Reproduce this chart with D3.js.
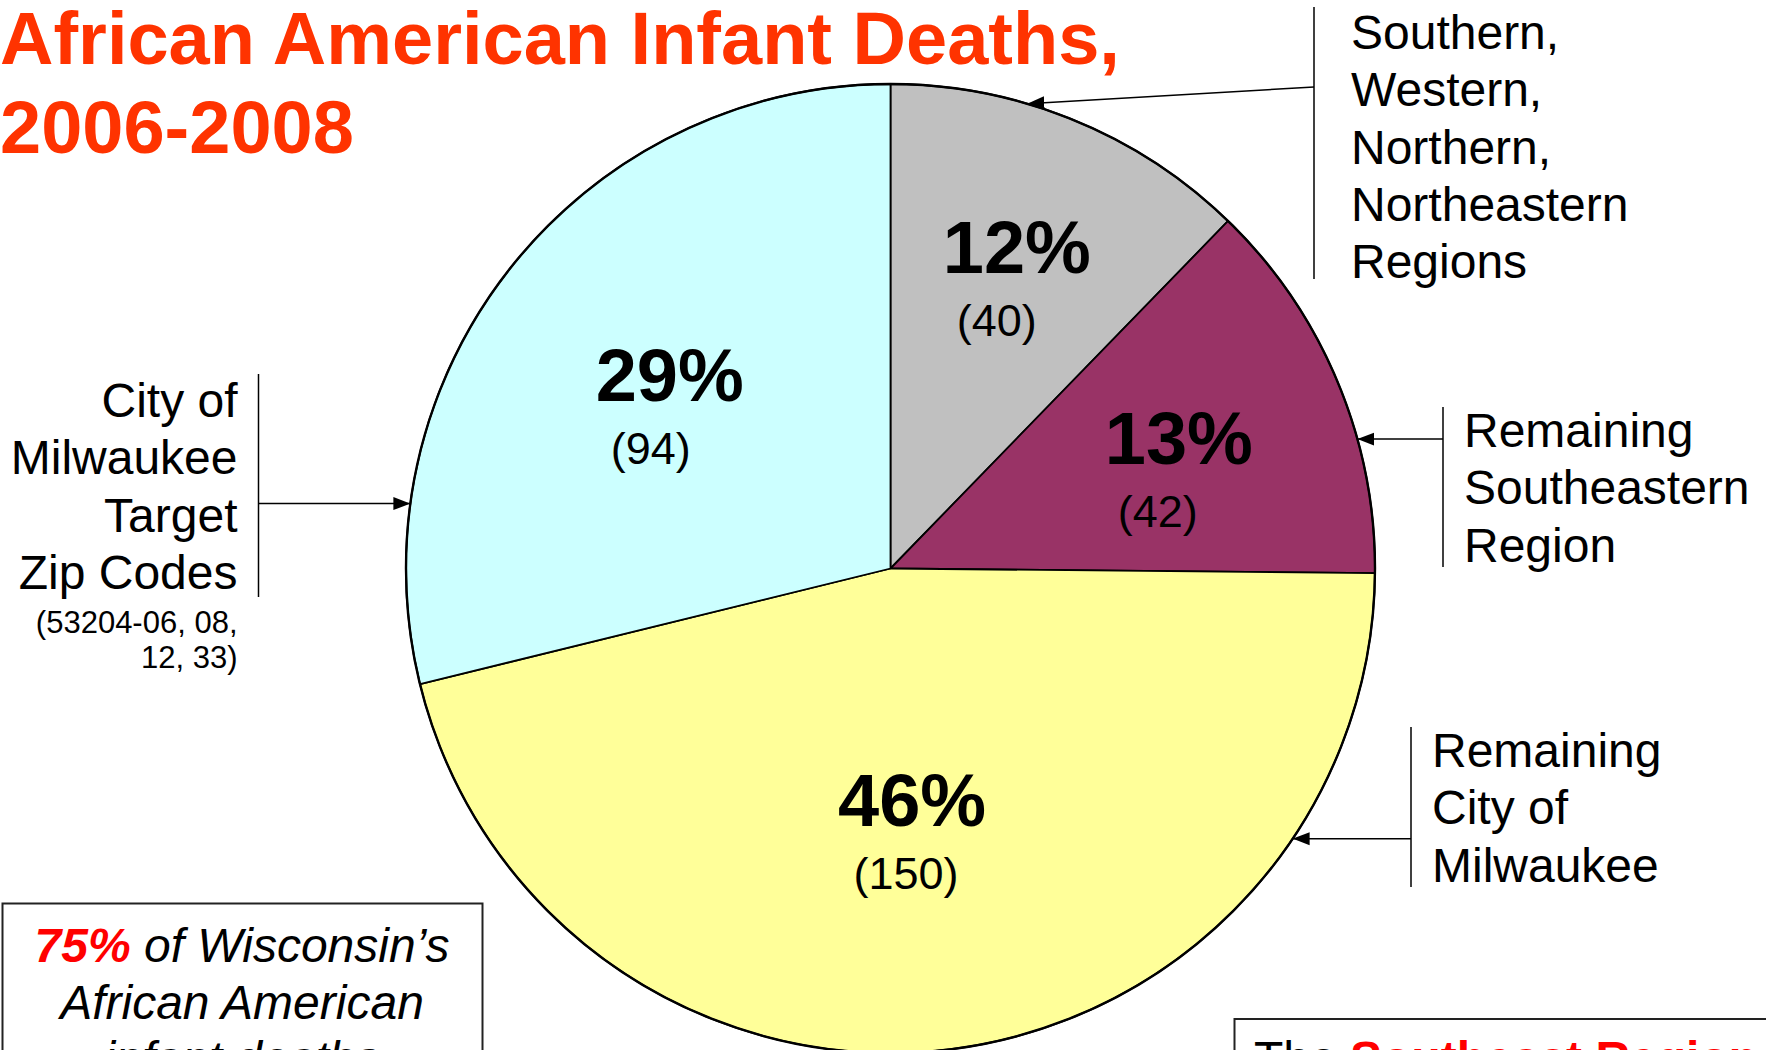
<!DOCTYPE html>
<html>
<head>
  <meta charset="utf-8">
  <title>African American Infant Deaths</title>
  <script src="https://d3js.org/d3.v7.min.js"></script>
  <style>
    body { margin: 0; background: #fff; overflow: hidden; }
    text { font-family: Arial, "Liberation Sans", sans-serif; }
  </style>
</head>
<body>
  <svg width="1766" height="1050"></svg>
  <script>
  // ---- data (clockwise from 12 o'clock) ----
  var regions = ["Other Regions", "Remaining Southeastern Region", "Remaining City of Milwaukee", "Target Zip Codes"];
  var deaths = [40, 42, 150, 94];
  var sliceColors = ["#C0C0C0", "#993366", "#FFFF99", "#CCFFFF"];

  var calloutLines = [
    ["Southern,", "Western,", "Northern,", "Northeastern", "Regions"],
    ["Remaining", "Southeastern", "Region"],
    ["Remaining", "City of", "Milwaukee"],
    ["City of", "Milwaukee", "Target", "Zip Codes"]
  ];
  var zipNote = ["(53204-06, 08,", "12, 33)"];

  var titleLines = ["African American Infant Deaths,", "2006-2008"];

  // ---- layout ----
  var cx = 890.5, cy = 568.5, R = 484.5;
  var labelRadius = R * 0.6;
  // small shifts of the in-slice labels, [dx, dy, count dx]
  var labelNudge = [[17, -26, -20], [20, 7, -21], [-12, -31, -6], [8, 12, -19]];

  // callout boxes: text x, first baseline, anchor, bar x, bar range, arrow angle, attach y
  var callouts = [
    { x: 1351, y: 49, anchor: "start", barX: 1314, bar: [7, 279], angle: 16.4, attachY: 87 },
    { x: 1464, y: 447, anchor: "start", barX: 1443, bar: [407, 567], angle: 74.5 },
    { x: 1432, y: 767, anchor: "start", barX: 1411, bar: [727, 887], angle: 123.9 },
    { x: 237.5, y: 417, anchor: "end", barX: 258.5, bar: [374, 597], angle: 277.7 }
  ];
  var lineGap = 57.3;

  var svg = d3.select("svg");

  // arrow head
  svg.append("defs").append("marker")
    .attr("id", "arrow")
    .attr("markerUnits", "userSpaceOnUse")
    .attr("viewBox", "0 -8 17 16")
    .attr("refX", 17).attr("refY", 0)
    .attr("markerWidth", 17).attr("markerHeight", 16)
    .attr("orient", "auto")
    .append("path")
    .attr("d", "M0,-6.5L17,0L0,6.5Z")
    .attr("fill", "#000");

  // ---- title ----
  svg.selectAll("text.title").data(titleLines).enter()
    .append("text")
    .attr("class", "title")
    .attr("x", 0)
    .attr("y", function(d, i){ return 64 + i * 89; })
    .attr("font-size", 74)
    .attr("font-weight", "bold")
    .attr("fill", "#FF3300")
    .text(function(d){ return d; });

  // ---- pie ----
  var total = d3.sum(deaths);
  var pie = d3.pie().sort(null).value(function(d){ return d; });
  var arc = d3.arc().innerRadius(0).outerRadius(R);
  var labelArc = d3.arc().innerRadius(labelRadius).outerRadius(labelRadius);
  var arcs = pie(deaths);

  var g = svg.append("g").attr("transform", "translate(" + cx + "," + cy + ")");

  g.selectAll("path.slice").data(arcs).enter()
    .append("path")
    .attr("class", "slice")
    .attr("d", arc)
    .attr("fill", function(d, i){ return sliceColors[i]; })
    .attr("stroke", "#000")
    .attr("stroke-width", 1.8)
    .attr("stroke-linejoin", "round");

  // heavier rim, as in the original
  g.append("circle")
    .attr("r", R)
    .attr("fill", "none")
    .attr("stroke", "#000")
    .attr("stroke-width", 2.4);

  // percent + count labels
  var labels = g.selectAll("g.lbl").data(arcs).enter()
    .append("g")
    .attr("class", "lbl")
    .attr("transform", function(d, i){
      var c = labelArc.centroid(d);
      return "translate(" + (c[0] + labelNudge[i][0]) + "," + (c[1] + labelNudge[i][1]) + ")";
    });

  labels.append("text")
    .attr("text-anchor", "middle")
    .attr("font-size", 74)
    .attr("font-weight", "bold")
    .text(function(d){ return Math.round(d.value / total * 100) + "%"; });

  labels.append("text")
    .attr("text-anchor", "middle")
    .attr("x", function(d, i){ return labelNudge[i][2]; })
    .attr("y", 63)
    .attr("font-size", 45)
    .text(function(d){ return "(" + d.value + ")"; });

  // ---- callouts ----
  function edgePoint(deg) {
    var a = deg * Math.PI / 180;
    return [cx + R * Math.sin(a), cy - R * Math.cos(a)];
  }

  callouts.forEach(function(c, i){
    var tip = edgePoint(c.angle);
    var ay = c.attachY === undefined ? tip[1] : c.attachY;

    svg.append("line")
      .attr("x1", c.barX).attr("x2", c.barX)
      .attr("y1", c.bar[0]).attr("y2", c.bar[1])
      .attr("stroke", "#000").attr("stroke-width", 1.5);

    svg.append("line")
      .attr("x1", c.barX).attr("y1", ay)
      .attr("x2", tip[0]).attr("y2", tip[1])
      .attr("stroke", "#000").attr("stroke-width", 1.5)
      .attr("marker-end", "url(#arrow)");

    svg.selectAll("text.co" + i).data(calloutLines[i]).enter()
      .append("text")
      .attr("class", "co" + i)
      .attr("x", c.x)
      .attr("y", function(d, j){ return c.y + j * lineGap; })
      .attr("text-anchor", c.anchor)
      .attr("font-size", 48)
      .text(function(d){ return d; });
  });

  // zip code note under the left callout
  svg.selectAll("text.zip").data(zipNote).enter()
    .append("text")
    .attr("class", "zip")
    .attr("x", 237.5)
    .attr("y", function(d, i){ return 633 + i * 34.5; })
    .attr("text-anchor", "end")
    .attr("font-size", 31)
    .text(function(d){ return d; });

  // ---- note boxes at the bottom ----
  svg.append("rect")
    .attr("x", 2.5).attr("y", 903.5)
    .attr("width", 480).attr("height", 300)
    .attr("fill", "#fff").attr("stroke", "#222").attr("stroke-width", 2);

  var note = svg.append("g").attr("font-size", 48).attr("font-style", "italic");
  var l1 = note.append("text").attr("x", 242).attr("y", 962).attr("text-anchor", "middle");
  l1.append("tspan").attr("fill", "#FF0000").attr("font-weight", "bold").text("75%");
  l1.append("tspan").text(" of Wisconsin\u2019s");
  note.append("text").attr("x", 242).attr("y", 1018.5).attr("text-anchor", "middle").text("African American");
  note.append("text").attr("x", 242).attr("y", 1075).attr("text-anchor", "middle").text("infant deaths");

  svg.append("rect")
    .attr("x", 1234.5).attr("y", 1019)
    .attr("width", 600).attr("height", 200)
    .attr("fill", "#fff").attr("stroke", "#222").attr("stroke-width", 2);

  var r2 = svg.append("text").attr("x", 1254).attr("y", 1075).attr("font-size", 48);
  r2.append("tspan").text("The ");
  r2.append("tspan").attr("fill", "#FF0000").attr("font-weight", "bold").text("Southeast Region");
  </script>
</body>
</html>
